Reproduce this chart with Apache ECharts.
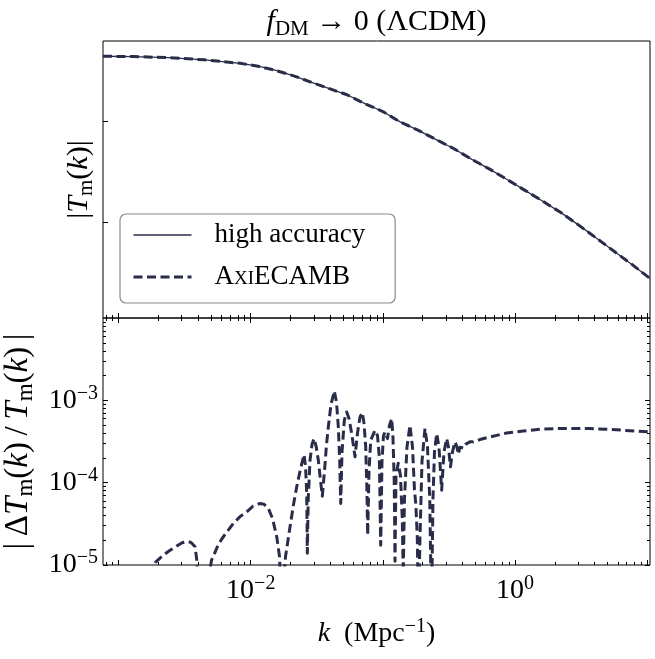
<!DOCTYPE html>
<html>
<head>
<meta charset="utf-8">
<script src="https://cdn.jsdelivr.net/npm/echarts@6/dist/echarts.min.js"></script>
<style>
  html, body { margin: 0; padding: 0; background: #ffffff; }
  #chart { width: 655px; height: 659px; }
</style>
</head>
<body>
<div id="chart"></div>
<script>
// ---- upper panel: matter transfer function amplitude |T_m(k)| ----
const kTransfer = [
  7.62e-4, 1.291e-3, 2.404e-3, 4.477e-3, 6.095e-3, 8.318e-3, 1.135e-2, 1.549e-2,
  2.113e-2, 2.884e-2, 3.936e-2, 5.358e-2, 7.311e-2, 9.977e-2, 0.1361, 0.1858,
  0.2529, 0.3451, 0.4710, 0.6427, 0.8770, 1.197, 1.633, 2.223, 3.034, 4.140,
  5.649, 7.709, 10.51
];
const transferAmp = [
  0.4377, 0.4345, 0.4238, 0.4033, 0.3874, 0.3722, 0.3487, 0.3164,
  0.2801, 0.2416, 0.2091, 0.1818, 0.1485, 0.1241, 0.09737, 0.08077,
  0.06551, 0.05313, 0.04171, 0.03336, 0.02618, 0.02046, 0.01595, 0.01239, 0.009307, 0.006898,
  0.005098, 0.003781, 0.002757
];

// ---- lower panel: relative difference |ΔT_m(k)/T_m(k)| ----
const kDiff = [
  1.454e-3, 1.888e-3, 2.182e-3, 2.453e-3, 2.755e-3, 3.022e-3, 3.314e-3, 3.535e-3, 3.791e-3, 3.904e-3,
  3.946e-3, 3.994e-3, 4.837e-3, 4.921e-3, 5.052e-3, 5.277e-3, 5.655e-3, 6.034e-3, 6.617e-3, 7.386e-3,
  8.300e-3, 9.327e-3, 1.041e-2, 1.176e-2, 1.260e-2, 1.359e-2, 1.462e-2, 1.573e-2, 1.651e-2, 1.710e-2,
  1.786e-2, 1.833e-2, 1.983e-2, 2.108e-2, 2.228e-2, 2.380e-2, 2.530e-2, 2.597e-2, 2.652e-2, 2.680e-2,
  2.722e-2, 2.809e-2, 2.908e-2, 3.011e-2, 3.134e-2, 3.245e-2, 3.373e-2, 3.480e-2, 3.615e-2, 3.744e-2,
  3.864e-2, 4.050e-2, 4.290e-2, 4.457e-2, 4.599e-2, 4.713e-2, 4.796e-2, 4.906e-2, 5.105e-2, 5.324e-2,
  5.542e-2, 5.808e-2, 6.152e-2, 6.426e-2, 6.711e-2, 6.986e-2, 7.194e-2, 7.411e-2, 7.554e-2, 7.674e-2,
  7.850e-2, 8.085e-2, 8.713e-2, 9.103e-2, 9.393e-2, 9.625e-2, 9.845e-2, 0.1010, 0.1037, 0.1083,
  0.1122, 0.1166, 0.1192, 0.1218, 0.1235, 0.1256, 0.1307, 0.1358, 0.1401, 0.1426,
  0.1456, 0.1521, 0.1603, 0.1675, 0.1734, 0.1774, 0.1821, 0.1859, 0.1908, 0.1976,
  0.2082, 0.2175, 0.2263, 0.2331, 0.2393, 0.2456, 0.2553, 0.2657, 0.2784, 0.2898,
  0.3038, 0.3134, 0.3245, 0.3361, 0.3510, 0.3622, 0.3718, 0.3830, 0.3946, 0.4071,
  0.4215, 0.4364, 0.4559, 0.4828, 0.5427, 0.6457, 0.8640, 1.153, 1.543, 2.064,
  2.755, 3.687, 4.931, 6.585, 10.48
];
const relDiff = [
  2.5e-6, 1.07e-5, 1.32e-5, 1.51e-5, 1.70e-5, 1.86e-5, 1.93e-5, 1.88e-5, 1.67e-5, 1.15e-5,
  7.4e-6, 2.5e-6, 2.5e-6, 8.9e-6, 1.15e-5, 1.34e-5, 1.74e-5, 2.07e-5, 2.53e-5, 3.20e-5,
  3.87e-5, 4.43e-5, 5.19e-5, 5.59e-5, 5.47e-5, 4.87e-5, 3.67e-5, 2.20e-5, 1.27e-5, 2.5e-6,
  7.4e-6, 1.27e-5, 2.91e-5, 5.47e-5, 8.91e-5, 1.47e-4, 2.19e-4, 1.59e-4, 7.39e-5, 1.39e-5,
  6.25e-5, 1.88e-4, 2.92e-4, 3.43e-4, 2.70e-4, 1.88e-4, 1.06e-4, 6.86e-5, 1.39e-4, 2.92e-4,
  4.75e-4, 8.94e-4, 1.30e-3, 9.43e-4, 4.75e-4, 1.81e-4, 5.59e-5, 2.36e-4, 5.72e-4, 7.23e-4,
  6.00e-4, 3.94e-4, 2.06e-4, 4.02e-4, 6.28e-4, 7.10e-4, 5.25e-4, 2.72e-4, 9.32e-5, 2.31e-5,
  1.39e-4, 3.27e-4, 4.33e-4, 3.72e-4, 2.07e-4, 1.74e-5, 1.81e-4, 3.72e-4, 4.13e-4, 3.43e-4,
  4.98e-4, 6.00e-4, 3.52e-4, 1.06e-4, 1.11e-5, 1.22e-4, 1.72e-4, 1.22e-4, 3.67e-5, 7.8e-6,
  6.25e-5, 2.70e-4, 4.98e-4, 2.70e-4, 8.16e-5, 5.47e-5, 2.16e-5, 2.5e-6, 2.16e-5, 1.81e-4,
  4.54e-4, 2.70e-4, 6.25e-5, 2.5e-6, 6.25e-5, 2.36e-4, 3.94e-4, 2.70e-4, 8.11e-5, 2.36e-4,
  3.43e-4, 2.70e-4, 1.56e-4, 2.36e-4, 3.13e-4, 2.77e-4, 2.21e-4, 2.70e-4, 2.85e-4, 2.63e-4,
  2.92e-4, 2.77e-4, 3.13e-4, 3.13e-4, 3.34e-4, 3.59e-4, 4.01e-4, 4.24e-4, 4.45e-4, 4.54e-4,
  4.54e-4, 4.54e-4, 4.45e-4, 4.33e-4, 4.13e-4
];

// ---- axis ranges and tick positions ----
const kRange = [7.62e-4, 10.5];
const transferRange = [1.1206e-3, 0.6195];
const diffRange = [1e-5, 1e-2];
const kMajorTicks = [1e-3, 1e-2, 1e-1, 1, 10];
const kLabelTicks = [1e-2, 1];
const transferTicks = [1e-2, 1e-1];
const diffMajorTicks = [1e-5, 1e-4, 1e-3];

function minorDecadeTicks(e0, e1, range) {
  const out = [];
  for (let e = e0; e <= e1; e++) {
    for (let m = 2; m <= 9; m++) {
      const v = parseFloat((m * Math.pow(10, e)).toPrecision(6));
      if (v >= range[0] && v <= range[1]) out.push(v);
    }
  }
  return out;
}
const kMinorTicks = minorDecadeTicks(-4, 1, kRange);
const diffMinorTicks = minorDecadeTicks(-6, -3, diffRange);

const FONT = '"Liberation Serif", "DejaVu Serif", serif';
const INK = '#2a2d4a';

function richSet(size) {
  const sub = Math.round(size * 0.71);
  return {
    b: { fontFamily: FONT, fontSize: size, color: '#000', lineHeight: size + 6 },
    t: { fontFamily: FONT, fontSize: size, color: '#000', lineHeight: size + 6 },
    i: { fontFamily: FONT, fontSize: size, color: '#000', lineHeight: size + 6, fontStyle: 'italic' },
    s: { fontFamily: FONT, fontSize: sub, color: '#000', lineHeight: sub, verticalAlign: 'top' },
    d: { fontFamily: FONT, fontSize: sub, color: '#000', lineHeight: Math.round(size * 0.57), verticalAlign: 'bottom' }
  };
}
const RICH = richSet(28);
const RICH_TOP_YLABEL = richSet(30);
const RICH_YLABEL = richSet(33);
const RICH_TITLE = richSet(30);

function powerLabel(v) {
  const e = Math.round(Math.log10(v));
  return '{b|10}{s|' + (e < 0 ? '\u2212' : '') + Math.abs(e) + '}';
}

function tick(values, len) {
  return { show: true, inside: true, length: len, customValues: values,
           lineStyle: { color: '#000', width: 1 } };
}

const hidden = { show: false };

function xAxes(gridIndex, withLabels, withTop) {
  const base = {
    type: 'log', logBase: 10, gridIndex: gridIndex,
    min: kRange[0], max: kRange[1],
    axisLine: { show: false, onZero: false },
    splitLine: { show: false }, axisPointer: { show: false }
  };
  const main = Object.assign({}, base, {
    position: 'bottom',
    axisTick: tick(kMajorTicks, 5),
    axisLabel: withLabels ? {
      show: true, customValues: kLabelTicks, margin: 9,
      formatter: powerLabel, rich: RICH
    } : hidden
  });
  if (withLabels) {
    Object.assign(main, {
      name: '{i|k}{t|\u2002(Mpc}{s|\u22121}{t|)}',
      nameLocation: 'middle', nameGap: 52,
      nameTextStyle: { rich: RICH }
    });
  }
  const list = [
    main,
    Object.assign({}, base, { position: 'bottom', axisTick: tick(kMinorTicks, 3), axisLabel: hidden })
  ];
  if (withTop) {
    list.push(
      Object.assign({}, base, { position: 'top', axisTick: tick(kMajorTicks, 5), axisLabel: hidden }),
      Object.assign({}, base, { position: 'top', axisTick: tick(kMinorTicks, 3), axisLabel: hidden })
    );
  }
  return list;
}

function yAxes(gridIndex, range, major, minor, main, withRight) {
  const base = {
    type: 'log', logBase: 10, gridIndex: gridIndex,
    min: range[0], max: range[1],
    axisLine: { show: false, onZero: false },
    splitLine: { show: false }, axisPointer: { show: false }
  };
  const list = [
    Object.assign({}, base, { position: 'left', axisTick: tick(major, 5) }, main),
    Object.assign({}, base, { position: 'left', axisTick: tick(minor, 3), axisLabel: hidden })
  ];
  if (withRight) {
    list.push(
      Object.assign({}, base, { position: 'right', axisTick: tick(major, 5), axisLabel: hidden }),
      Object.assign({}, base, { position: 'right', axisTick: tick(minor, 3), axisLabel: hidden })
    );
  }
  return list;
}

const zip = (a, b) => a.map((v, i) => [v, b[i]]);

const upperX = xAxes(0, false, false);
const lowerX = xAxes(1, true, true);
const upperY = yAxes(0, transferRange, transferTicks, [], {
  axisLabel: hidden,
  name: '{t||}{i|T}{d|m}{t|(}{i|k}{t|)|}',
  nameLocation: 'middle', nameRotate: 90, nameGap: 6,
  nameTextStyle: { rich: RICH_TOP_YLABEL }
}, false);
const lowerY = yAxes(1, diffRange, diffMajorTicks, diffMinorTicks, {
  axisLabel: { show: true, customValues: diffMajorTicks, margin: 5, formatter: powerLabel, rich: RICH },
  name: '{t||\u2009\u0394}{i|T}{d|m}{t|(}{i|k}{t|)\u2009/\u2009}{i|T}{d|m}{t|(}{i|k}{t|)\u2009|}',
  nameLocation: 'middle', nameRotate: 90, nameGap: 58,
  nameTextStyle: { rich: RICH_YLABEL }
}, true);

const chart = echarts.init(document.getElementById('chart'), null, { renderer: 'canvas' });

chart.setOption({
  animation: false,
  backgroundColor: '#ffffff',
  grid: [
    { left: 103, top: 41, width: 547, height: 277, show: true, borderColor: '#000', borderWidth: 1,
      backgroundColor: 'transparent', outerBoundsMode: 'none' },
    { left: 103, top: 318, width: 547, height: 247, show: true, borderColor: '#000', borderWidth: 1,
      backgroundColor: 'transparent', outerBoundsMode: 'none' }
  ],
  xAxis: upperX.concat(lowerX),
  yAxis: upperY.concat(lowerY),
  legend: {
    data: [
      { name: 'high accuracy', lineStyle: { width: 1.3 } },
      { name: 'AxiECAMB', lineStyle: { width: 3 } }
    ],
    orient: 'vertical', left: 120, top: 214,
    itemWidth: 58, itemHeight: 14, itemGap: 10,
    padding: [5, 30, 10, 12],
    backgroundColor: '#ffffff', borderColor: '#8a8a8a', borderWidth: 1.2, borderRadius: 6,
    selectedMode: false,
    itemStyle: { opacity: 0 },
    formatter: function (name) {
      return name === 'AxiECAMB' ? '{g| }{n|A}{sc|XI}{n|ECAMB}' : '{g| }{n|' + name + '}';
    },
    textStyle: {
      fontFamily: FONT, fontSize: 27, color: '#000', lineHeight: 32,
      rich: {
        g: { width: 18, fontSize: 27, lineHeight: 32 },
        n: { fontFamily: FONT, fontSize: 27, color: '#000', lineHeight: 32 },
        sc: { fontFamily: FONT, fontSize: 19, color: '#000', padding: [5, 0, 0, 0] }
      }
    }
  },
  graphic: [{
    type: 'text', x: 376.5, y: 22, silent: true,
    style: {
      text: '{i|f}{d|DM}{t| \u2192 0 (\u039BCDM)}',
      align: 'center', verticalAlign: 'middle',
      fontFamily: FONT, fontSize: 30, fill: '#000',
      rich: RICH_TITLE
    }
  }],
  series: [
    {
      name: 'high accuracy', type: 'line', xAxisIndex: 0, yAxisIndex: 0,
      data: zip(kTransfer, transferAmp), symbol: 'none', showSymbol: false,
      lineStyle: { color: INK, width: 1.3 }, itemStyle: { color: INK }, z: 2
    },
    {
      name: 'AxiECAMB', type: 'line', xAxisIndex: 0, yAxisIndex: 0,
      data: zip(kTransfer, transferAmp), symbol: 'none', showSymbol: false,
      lineStyle: { color: INK, width: 3, type: [9, 4.5], cap: 'butt' }, itemStyle: { color: INK }, z: 3
    },
    {
      name: 'relative difference', type: 'line', xAxisIndex: 2, yAxisIndex: 2,
      data: zip(kDiff, relDiff), symbol: 'none', showSymbol: false, clip: true,
      lineStyle: { color: INK, width: 3, type: [9, 4.5], cap: 'butt', join: 'round' },
      itemStyle: { color: INK }, z: 3
    }
  ]
});
</script>
</body>
</html>
